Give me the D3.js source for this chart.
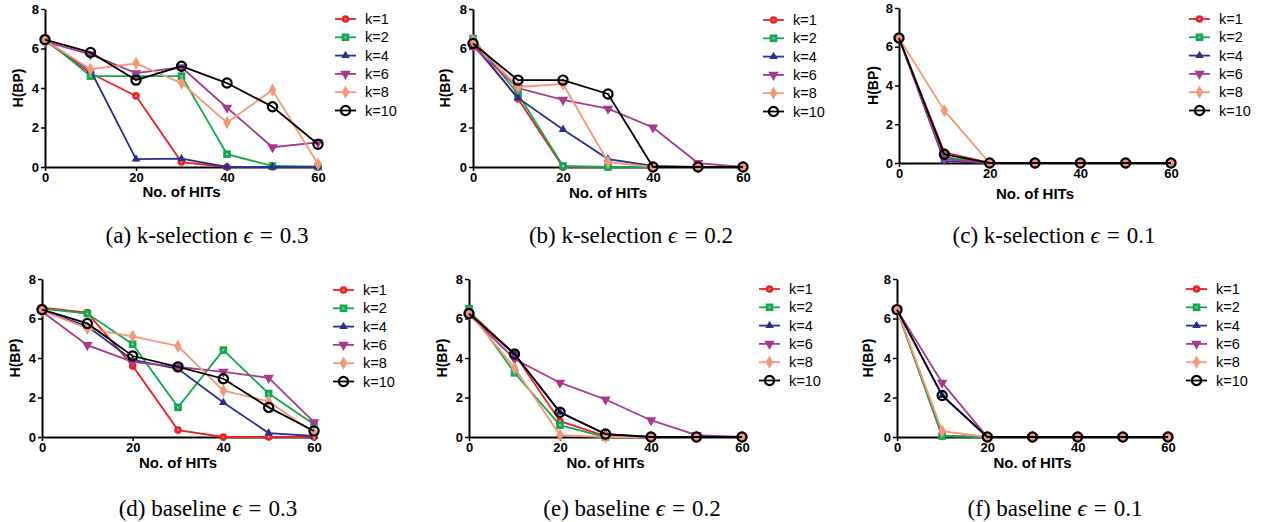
<!DOCTYPE html>
<html>
<head>
<meta charset="utf-8">
<script src="https://cdn.jsdelivr.net/npm/d3@7"></script>
<style>
  body { margin: 0; background: #fff; }
  svg { display: block; }
  .tick text { font-family: "Liberation Sans", Arial, sans-serif; font-weight: bold; font-size: 13px; fill: #000; }
  .axTitle { font-family: "Liberation Sans", Arial, sans-serif; font-weight: bold; font-size: 15px; }
  .yTitle { font-family: "Liberation Sans", Arial, sans-serif; font-weight: bold; font-size: 14px; }
  .legText { font-family: "Liberation Sans", Arial, sans-serif; font-size: 14.5px; }
  .caption { font-family: "Liberation Serif", "Times New Roman", serif; font-size: 23px; }
</style>
</head>
<body>
<div id="chart"></div>
<script>
// values, one row per k
var hits = [0, 10, 20, 30, 40, 50, 60];
var kLabels = ["k=1", "k=2", "k=4", "k=6", "k=8", "k=10"];
var yTicks = [0, 2, 4, 6, 8];
var xTicks = [0, 20, 40, 60];

var kselEps03 = [
  [6.4, 4.75, 3.6, 0.25, 0, 0, 0],
  [6.5, 4.6, 4.6, 4.6, 0.65, 0.05, 0.02],
  [6.4, 4.9, 0.4, 0.42, 0, 0, 0],
  [6.35, 5.7, 4.75, 5.05, 3.0, 1.0, 1.25],
  [6.4, 4.95, 5.25, 4.25, 2.25, 3.9, 0.15],
  [6.45, 5.8, 4.4, 5.1, 4.25, 3.05, 1.15]
];
var kselEps02 = [
  [6.3, 3.45, 0, 0, 0, 0, 0],
  [6.5, 3.7, 0.05, 0, 0, 0, 0],
  [6.2, 3.5, 1.9, 0.4, 0.05, 0, 0],
  [6.1, 4.0, 3.4, 2.95, 2.0, 0.2, 0],
  [6.4, 4.05, 4.2, 0.25, 0, 0, 0],
  [6.25, 4.4, 4.4, 3.7, 0, 0, 0]
];
var kselEps01 = [
  [6.45, 0.55, 0, 0, 0, 0, 0],
  [6.45, 0.3, 0, 0, 0, 0, 0],
  [6.45, 0.1, 0, 0, 0, 0, 0],
  [6.45, 0.2, 0, 0, 0, 0, 0],
  [6.45, 2.7, 0, 0, 0, 0, 0],
  [6.45, 0.45, 0, 0, 0, 0, 0]
];
var baseEps03 = [
  [6.55, 6.3, 3.6, 0.35, 0, 0, 0],
  [6.5, 6.25, 4.7, 1.5, 4.4, 2.2, 0.65],
  [6.4, 5.6, 3.9, 3.45, 1.75, 0.2, 0.05],
  [6.35, 4.65, 3.8, 3.55, 3.3, 3.0, 0.75],
  [6.4, 5.5, 5.1, 4.6, 2.35, 1.8, 0.2],
  [6.45, 5.75, 4.1, 3.55, 2.95, 1.5, 0.3]
];
var baseEps02 = [
  [6.35, 4.2, 0.8, 0.05, 0, 0, 0],
  [6.5, 3.25, 0.6, 0, 0, 0, 0],
  [6.25, 4.2, 1.25, 0.15, 0, 0, 0],
  [6.2, 3.95, 2.75, 1.9, 0.85, 0.1, 0],
  [6.3, 3.5, 0.1, 0, 0, 0, 0],
  [6.25, 4.2, 1.25, 0.15, 0, 0, 0]
];
var baseEps01 = [
  [6.45, 0.05, 0, 0, 0, 0, 0],
  [6.45, 0.05, 0, 0, 0, 0, 0],
  [6.45, 2.1, 0, 0, 0, 0, 0],
  [6.45, 2.75, 0, 0, 0, 0, 0],
  [6.45, 0.3, 0, 0, 0, 0, 0],
  [6.45, 2.1, 0, 0, 0, 0, 0]
];

var colors = ["#ed2024", "#12a84f", "#2c2f8f", "#a83a8e", "#f5987a", "#000000"];
var shapes = ["circle", "square", "triUp", "triDown", "diamond", "ring"];

var svg = d3.select("#chart").append("svg")
  .attr("width", 1266).attr("height", 522);

// panel layout (pixels)
var panels = [
  { data: kselEps03, x0: 45, x1: 318, yTop: 9, yBot: 167, legX: 335, legY: 19, yLabX: 18, xTitleDy: 30,
    cap: "(a) k-selection", eps: "0.3", capX: 207, capY: 243 },
  { data: kselEps02, x0: 473, x1: 743, yTop: 9, yBot: 167, legX: 763, legY: 20, yLabX: 445, xTitleDy: 31,
    cap: "(b) k-selection", eps: "0.2", capX: 631, capY: 243 },
  { data: kselEps01, x0: 899, x1: 1171, yTop: 8, yBot: 163, legX: 1189, legY: 19, yLabX: 873, xTitleDy: 36,
    cap: "(c) k-selection", eps: "0.1", capX: 1054, capY: 243 },
  { data: baseEps03, x0: 42, x1: 314, yTop: 279, yBot: 437, legX: 333, legY: 290, yLabX: 15, xTitleDy: 31,
    cap: "(d) baseline", eps: "0.3", capX: 208, capY: 516 },
  { data: baseEps02, x0: 469, x1: 742, yTop: 279, yBot: 437, legX: 759, legY: 289, yLabX: 442, xTitleDy: 31,
    cap: "(e) baseline", eps: "0.2", capX: 632, capY: 516 },
  { data: baseEps01, x0: 897, x1: 1168, yTop: 279, yBot: 437, legX: 1186, legY: 289, yLabX: 868, xTitleDy: 31,
    cap: "(f) baseline", eps: "0.1", capX: 1055, capY: 516 }
];

function drawMarker(g, shape, color) {
  if (shape == "circle") {
    g.append("circle").attr("r", 3.8).attr("fill", color);
    g.append("circle").attr("r", 1.1).attr("fill", "#fff").attr("opacity", 0.6);
  } else if (shape == "ring") {
    g.append("circle").attr("r", 4.6).attr("fill", "none").attr("stroke", color).attr("stroke-width", 2.2);
  } else if (shape == "square") {
    g.append("rect").attr("x", -3.8).attr("y", -3.8).attr("width", 7.6).attr("height", 7.6).attr("fill", color);
    g.append("rect").attr("x", -1).attr("y", -1).attr("width", 2).attr("height", 2).attr("fill", "#fff").attr("opacity", 0.5);
  } else if (shape == "triUp") {
    g.append("path").attr("d", d3.symbol(d3.symbolTriangle, 32)()).attr("fill", color);
  } else if (shape == "triDown") {
    g.append("path").attr("d", d3.symbol(d3.symbolTriangle, 48)()).attr("transform", "rotate(180)").attr("fill", color);
  } else if (shape == "diamond") {
    g.append("path").attr("d", d3.symbol(d3.symbolDiamond, 50)()).attr("fill", color);
  }
}

panels.forEach(function(p) {
  var x = d3.scaleLinear().domain([0, 60]).range([p.x0, p.x1]);
  var y = d3.scaleLinear().domain([0, 8]).range([p.yBot, p.yTop]);
  var g = svg.append("g");

  var xAxis = g.append("g")
    .attr("transform", "translate(0," + p.yBot + ")")
    .call(d3.axisBottom(x).tickValues(xTicks).tickSize(4).tickSizeOuter(0).tickPadding(2));
  var yAxis = g.append("g")
    .attr("transform", "translate(" + p.x0 + ",0)")
    .call(d3.axisLeft(y).tickValues(yTicks).tickSize(4).tickSizeOuter(0).tickPadding(2));
  [xAxis, yAxis].forEach(function(a) {
    a.select(".domain").attr("stroke", "#000").attr("stroke-width", 2);
    a.selectAll(".tick line").attr("stroke", "#000").attr("stroke-width", 1.5);
  });

  g.append("text").attr("class", "axTitle")
    .attr("x", (p.x0 + p.x1) / 2).attr("y", p.yBot + p.xTitleDy)
    .attr("text-anchor", "middle").text("No. of HITs");
  g.append("text").attr("class", "yTitle")
    .attr("transform", "translate(" + (p.yLabX + 5) + "," + ((p.yTop + p.yBot) / 2) + ")rotate(-90)")
    .attr("text-anchor", "middle").text("H(BP)");

  var line = d3.line().x(function(d, i) { return x(hits[i]); }).y(function(d) { return y(d); });

  p.data.forEach(function(vals, k) {
    g.append("path").datum(vals)
      .attr("d", line)
      .attr("fill", "none")
      .attr("stroke", colors[k])
      .attr("stroke-width", 1.8);
    vals.forEach(function(v, i) {
      var m = g.append("g").attr("transform", "translate(" + x(hits[i]) + "," + y(v) + ")");
      drawMarker(m, shapes[k], colors[k]);
    });
  });

  // legend
  kLabels.forEach(function(lab, k) {
    var ly = p.legY + k * 18.3;
    g.append("line").attr("x1", p.legX).attr("x2", p.legX + 21)
      .attr("y1", ly).attr("y2", ly)
      .attr("stroke", colors[k]).attr("stroke-width", 1.8);
    var m = g.append("g").attr("transform", "translate(" + (p.legX + 10.5) + "," + ly + ")");
    drawMarker(m, shapes[k], colors[k]);
    g.append("text").attr("class", "legText")
      .attr("x", p.legX + 30).attr("y", ly + 5).text(lab);
  });

  // caption with math-style spacing around "="
  var cap = svg.append("text").attr("class", "caption")
    .attr("x", p.capX).attr("y", p.capY)
    .attr("text-anchor", "middle");
  cap.append("tspan").text(p.cap + " ");
  cap.append("tspan").attr("font-style", "italic").text("\u03f5");
  cap.append("tspan").attr("dx", 7).text("=");
  cap.append("tspan").attr("dx", 7).text(p.eps);
});
</script>
</body>
</html>
